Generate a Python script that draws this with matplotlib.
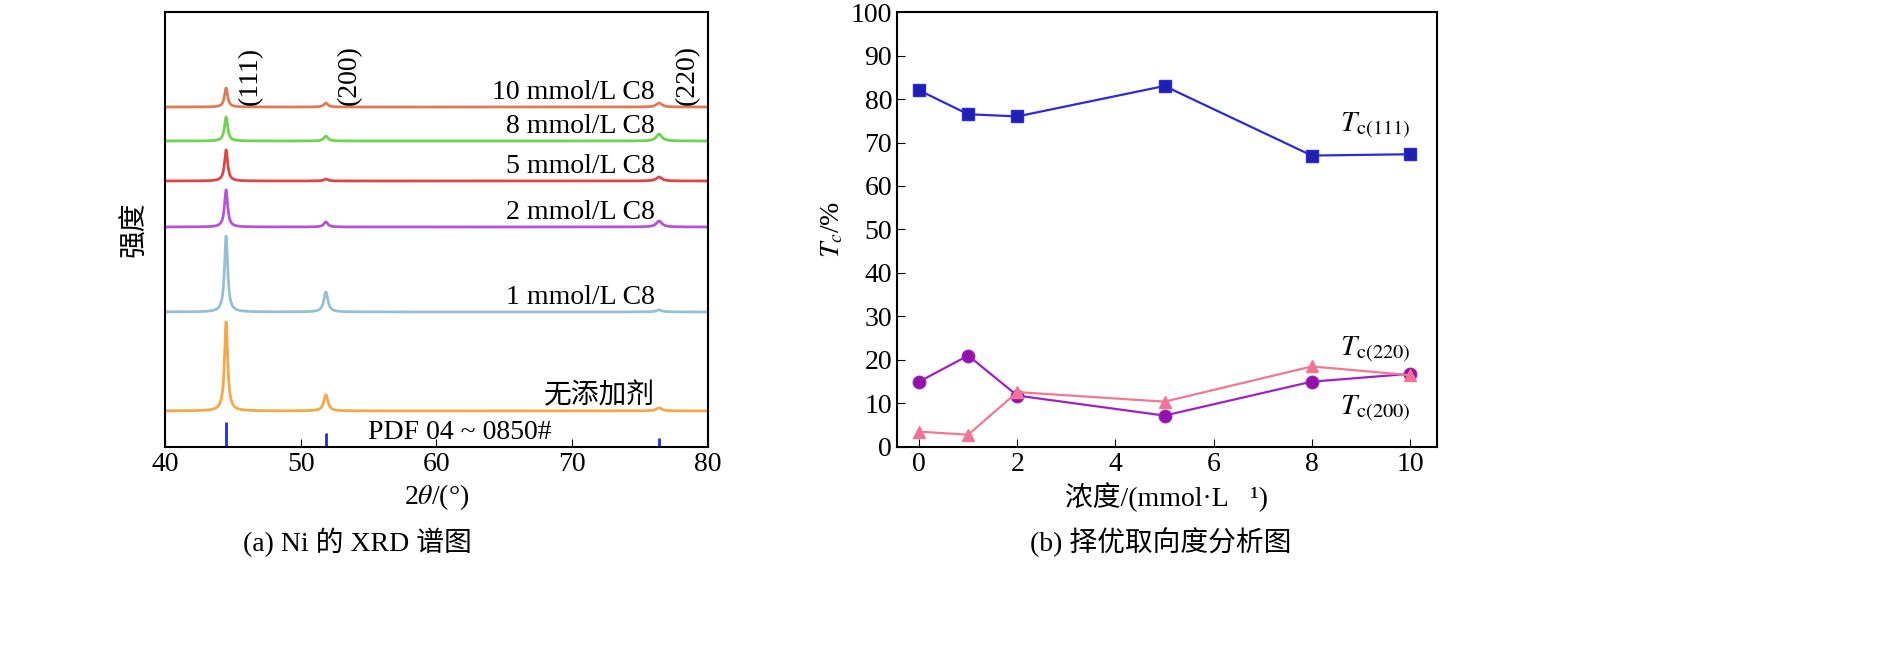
import numpy as np
import matplotlib
matplotlib.use("Agg")
import matplotlib.pyplot as plt

plt.rcParams['font.family'] = ['Liberation Serif', 'Noto Sans CJK SC']
plt.rcParams['mathtext.fontset'] = 'stix'
plt.rcParams['font.size'] = 20

# ---- (a) XRD data: peak positions, baseline offsets and peak heights ----
peak_pos = [44.5, 51.85, 76.4]
peak_width = [0.14, 0.18, 0.25]
samples = ['10 mmol/L C8', '8 mmol/L C8', '5 mmol/L C8', '2 mmol/L C8', '1 mmol/L C8', '无添加剂']
colors = ['#e07a52', '#6fd34f', '#e04545', '#b552d6', '#93c0d8', '#f5a845']
offsets = [340, 306, 266, 220, 135, 36]
h111 = [19, 24, 31, 37, 76, 89]
h200 = [4, 5, 2, 5, 20, 16]
h220 = [4, 7, 4, 6, 2, 3]
pdf_pos = [44.5, 51.85, 76.4]
pdf_h = [25, 14, 9]

# ---- (b) texture coefficients ----
conc = [0, 1, 2, 5, 8, 10]
tc111 = [82, 76.5, 76, 83, 67, 67.3]
tc200 = [15, 21, 11.8, 7.2, 15, 16.8]
tc220 = [3.5, 2.8, 12.6, 10.4, 18.5, 16.5]

fig = plt.figure(figsize=(18.9, 6.7), dpi=100)
ax1 = fig.add_axes([0.0873, 0.333, 0.2873, 0.649])
ax2 = fig.add_axes([0.4746, 0.333, 0.2857, 0.649])

tt = np.linspace(40, 80, 4000)
for name, c, off, a, b, d in zip(samples, colors, offsets, h111, h200, h220):
    y = np.full_like(tt, off, dtype=float)
    for p, w, h in zip(peak_pos, peak_width, [a, b, d]):
        y += h / (1 + ((tt - p) / w) ** 2)
    ax1.plot(tt, y, color=c, lw=2)
    ax1.text(76.1, off + 2, name, ha='right', va='bottom', fontsize=20)
ax1.vlines(pdf_pos, 0, pdf_h, color='#1a2ee0', lw=2)
ax1.text(61.7, 14, 'PDF 04 ~ 0850#', ha='center', va='center', fontsize=20)
for x, lab in zip([46.3, 53.6, 78.5], ['(111)', '(200)', '(220)']):
    ax1.text(x, 342, lab, rotation=90, ha='center', va='bottom', fontsize=20)
ax1.set_xlim(40, 80)
ax1.set_ylim(0, 435)
ax1.set_yticks([])
ax1.set_xticks([40, 50, 60, 70, 80])
ax1.tick_params(direction='in', length=6, labelsize=20)
ax1.set_xlabel(r'2$\theta$/(°)')
ax1.set_ylabel('强度', labelpad=12)
for s in ax1.spines.values():
    s.set_linewidth(1.5)

ax2.plot(conc, tc111, '-s', color='#2a2ad8', mfc='#2020b0', ms=8, lw=1.6)
ax2.plot(conc, tc200, '-o', color='#a020c0', mfc='#9010a8', ms=9, lw=1.6)
ax2.plot(conc, tc220, '-^', color='#f07890', mfc='#f070a0', ms=9, lw=1.6)
ax2.text(8.57, 72.5, r'$T_{\mathrm{c(111)}}$', fontsize=21)
ax2.text(8.57, 21, r'$T_{\mathrm{c(220)}}$', fontsize=21)
ax2.text(8.57, 7.5, r'$T_{\mathrm{c(200)}}$', fontsize=21)
ax2.set_xlim(-0.45, 10.55)
ax2.set_ylim(0, 100)
ax2.set_xticks([0, 2, 4, 6, 8, 10])
ax2.set_yticks(range(0, 101, 10))
ax2.tick_params(direction='in', length=6, labelsize=20)
ax2.set_xlabel('浓度/(mmol·L⁻¹)')
ax2.set_ylabel(r'$T_c$/%')
for s in ax2.spines.values():
    s.set_linewidth(1.5)

fig.text(0.189, 0.19, '(a) Ni 的 XRD 谱图', ha='center', va='center', fontsize=20)
fig.text(0.614, 0.19, '(b) 择优取向度分析图', ha='center', va='center', fontsize=20)

fig.savefig('out.png', dpi=100)
